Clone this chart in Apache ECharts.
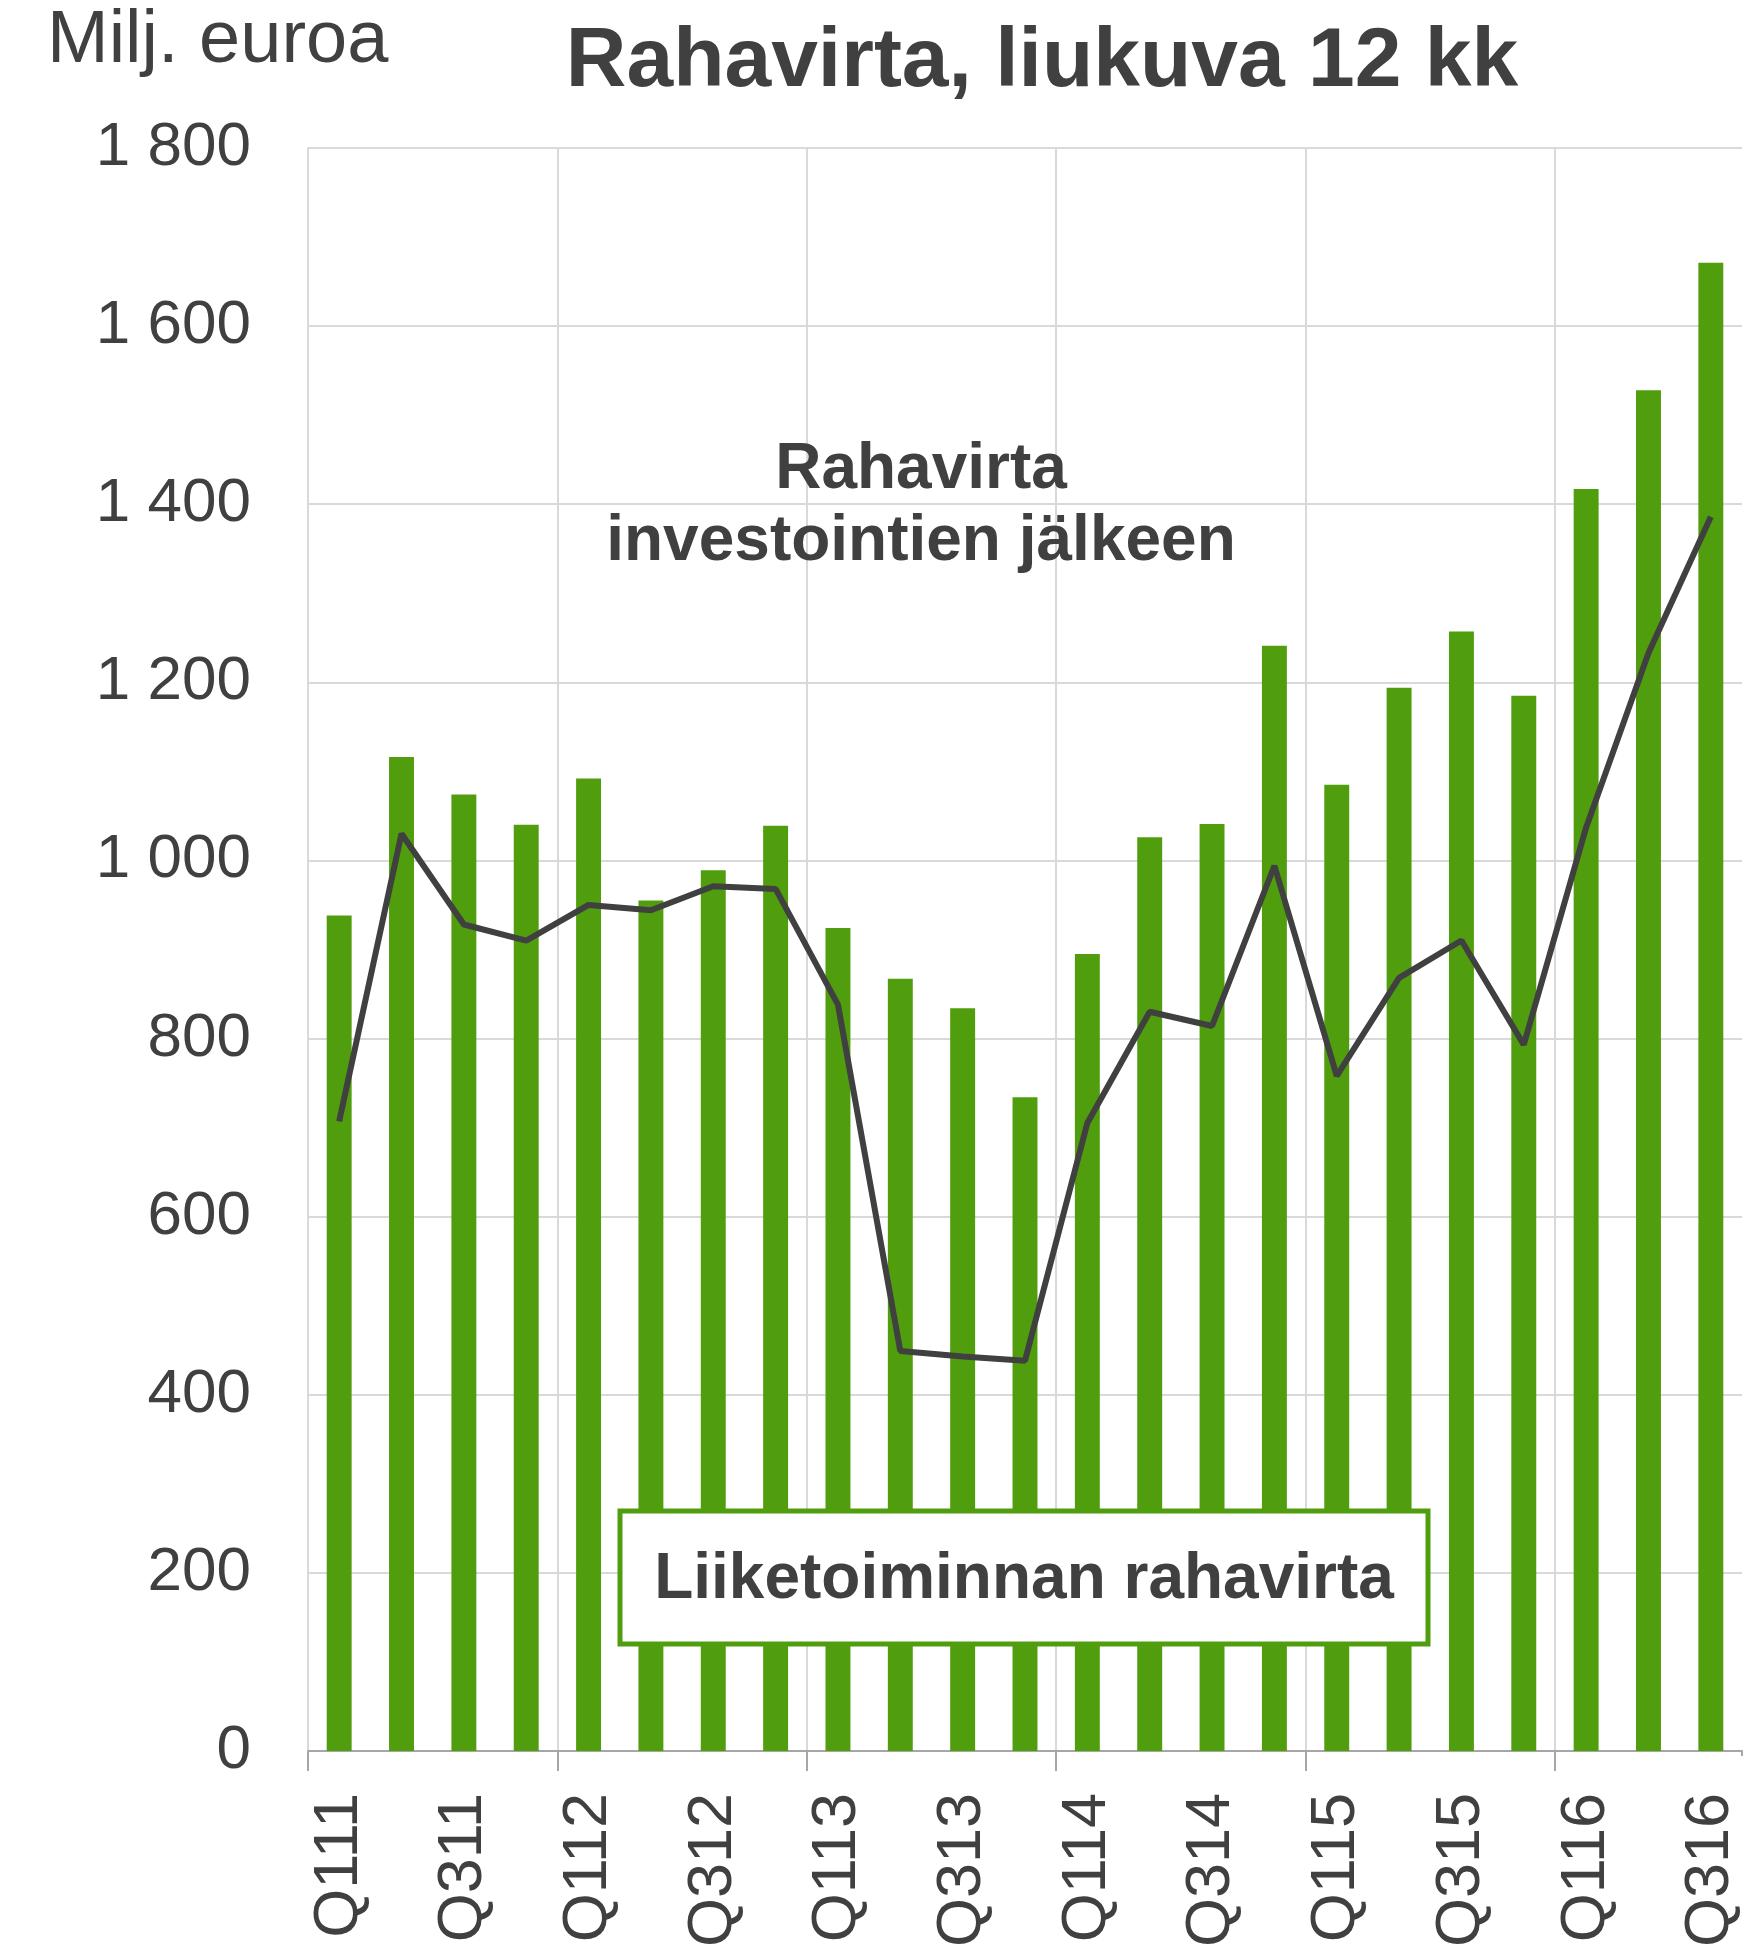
<!DOCTYPE html>
<html>
<head>
<meta charset="utf-8">
<script src="https://cdn.jsdelivr.net/npm/echarts@6/dist/echarts.min.js"></script>
<style>
  html, body { margin: 0; padding: 0; background: #fff; }
  #chart { width: 1748px; height: 1950px; }
</style>
</head>
<body>
<div id="chart"></div>
<script>
  // quarters Q1 2011 .. Q3 2016
  const quarters = ['Q111', 'Q211', 'Q311', 'Q411', 'Q112', 'Q212', 'Q312', 'Q412',
    'Q113', 'Q213', 'Q313', 'Q413', 'Q114', 'Q214', 'Q314', 'Q414',
    'Q115', 'Q215', 'Q315', 'Q415', 'Q116', 'Q216', 'Q316'];

  // Liiketoiminnan rahavirta (bars)
  const operatingCashFlow = [938, 1116, 1074, 1040, 1092, 955, 989, 1039,
    924, 867, 834, 734, 895, 1026, 1041, 1241,
    1085, 1194, 1257, 1185, 1417, 1528, 1671];

  // Rahavirta investointien jalkeen (line)
  const cashFlowAfterInvest = [707, 1030, 928, 910, 950, 944, 971, 968,
    838, 449, 443, 438, 705, 830, 814, 994,
    758, 868, 910, 793, 1037, 1233, 1386];

  const yTicks = { min: 0, max: 1800, interval: 200 };

  const green = '#509E0E';
  const dark = '#404040';
  const gridGray = '#d9d9d9';
  const font = "'Liberation Sans', Arial, sans-serif";

  const myChart = echarts.init(document.getElementById('chart'));

  // year boundary lines; the closing line at the right end is not drawn
  const splitColors = [gridGray, gridGray, gridGray, gridGray, gridGray, gridGray, 'rgba(0,0,0,0)'];

  const option = {
    animation: false,
    backgroundColor: '#fff',
    textStyle: { fontFamily: font },
    grid: { left: 308, right: 6, top: 148, bottom: 196, containLabel: false },
    xAxis: {
      type: 'category',
      data: quarters,
      boundaryGap: true,
      axisLine: { show: true, lineStyle: { color: '#a6a6a6', width: 2 } },
      axisTick: { show: true, interval: 3, length: 20, lineStyle: { color: '#a6a6a6', width: 2 } },
      splitLine: { show: true, interval: 3, lineStyle: { color: splitColors, width: 2 } },
      axisLabel: {
        interval: 1,
        rotate: 90,
        margin: 42,
        color: dark,
        fontSize: 63,
        fontFamily: font
      }
    },
    yAxis: {
      type: 'value',
      min: yTicks.min,
      max: yTicks.max,
      interval: yTicks.interval,
      axisLine: { show: true, lineStyle: { color: gridGray, width: 2 } },
      axisTick: { show: false },
      splitLine: { show: true, lineStyle: { color: gridGray, width: 2 } },
      axisLabel: {
        margin: 57,
        color: dark,
        fontSize: 62,
        fontFamily: font,
        formatter: function (v) {
          return v >= 1000 ? Math.floor(v / 1000) + ' ' + String(v % 1000).padStart(3, '0') : String(v);
        }
      }
    },
    series: [
      {
        name: 'Liiketoiminnan rahavirta',
        type: 'bar',
        data: operatingCashFlow,
        barWidth: '40%',
        itemStyle: { color: green },
        z: 2
      },
      {
        name: 'Rahavirta investointien jälkeen',
        type: 'line',
        data: cashFlowAfterInvest,
        symbol: 'none',
        lineStyle: { color: dark, width: 6 },
        z: 3
      }
    ],
    graphic: [
      {
        // hide the closing tick at the right end of the x axis
        type: 'rect',
        z: 100,
        shape: { x: 1737, y: 1756, width: 11, height: 24 },
        style: { fill: '#fff' }
      },
      {
        type: 'text',
        left: 47,
        top: 5,
        style: { text: 'Milj. euroa', fill: dark, font: '74px ' + font }
      },
      {
        type: 'text',
        x: 1042,
        y: 63,
        style: {
          text: 'Rahavirta, liukuva 12 kk',
          fill: dark,
          font: 'bold 84px ' + font,
          align: 'center',
          verticalAlign: 'middle'
        }
      },
      {
        type: 'text',
        x: 921,
        y: 506,
        z: 10,
        style: {
          text: 'Rahavirta\ninvestointien jälkeen',
          fill: dark,
          font: 'bold 64px ' + font,
          lineHeight: 72,
          align: 'center',
          verticalAlign: 'middle'
        }
      },
      {
        type: 'rect',
        z: 10,
        shape: { x: 620, y: 1511, width: 808, height: 133 },
        style: { fill: '#fff', stroke: green, lineWidth: 5 }
      },
      {
        type: 'text',
        x: 1024,
        y: 1580,
        z: 11,
        style: {
          text: 'Liiketoiminnan rahavirta',
          fill: dark,
          font: 'bold 64px ' + font,
          align: 'center',
          verticalAlign: 'middle'
        }
      }
    ]
  };

  myChart.setOption(option);
  window.addEventListener('resize', () => { myChart.resize(); });
</script>
</body>
</html>
